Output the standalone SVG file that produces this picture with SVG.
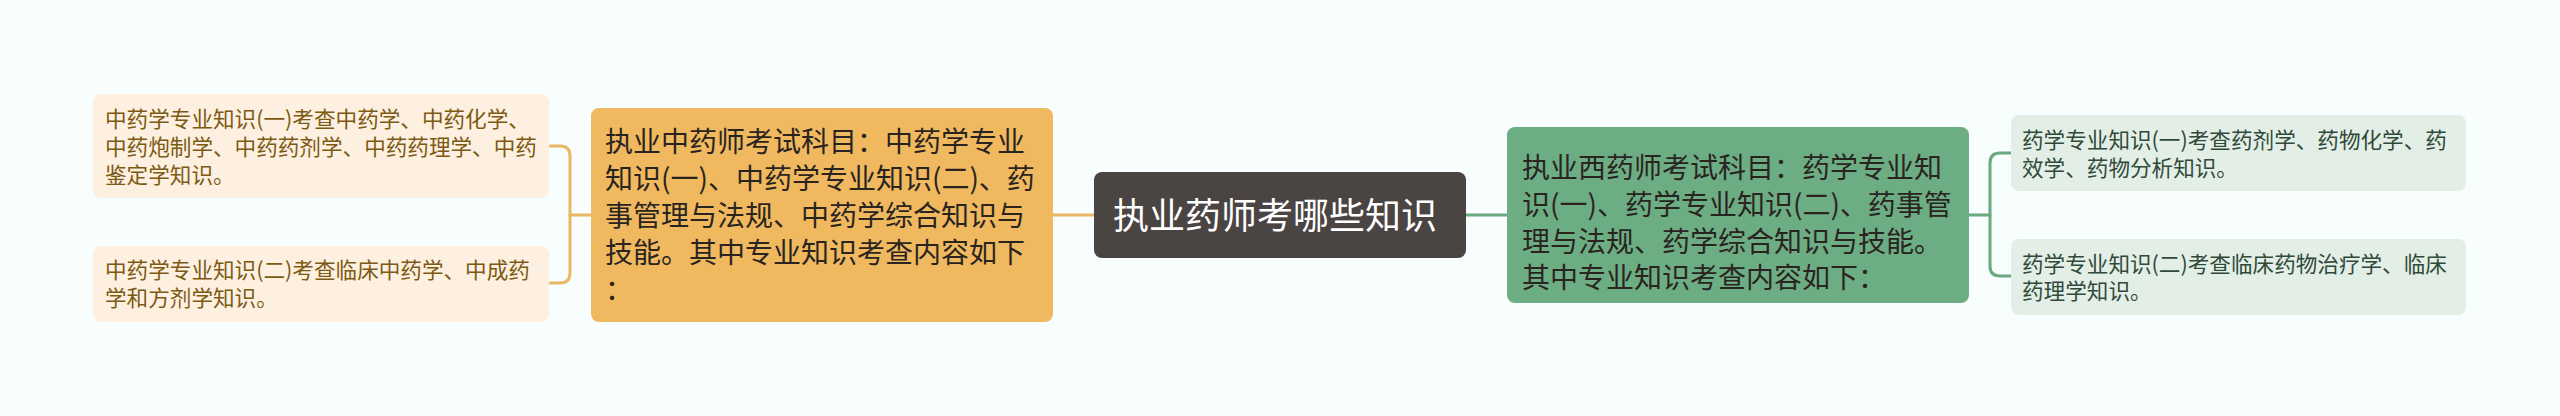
<svg xmlns="http://www.w3.org/2000/svg" width="2560" height="416" viewBox="0 0 2560 416">
<style>
text{font-family:"Noto Sans CJK SC","Noto Sans",sans-serif;}
.leafL{fill:#fdf0e1;}
.leafR{fill:#e2eee6;}
.tL{fill:#7c5a12;font-size:21.6px;}
.tR{fill:#2f4a38;font-size:21.6px;}
.tM{fill:#2a2420;font-size:28px;}
.c{fill:none;stroke-width:3;stroke-linecap:round;}
</style>
<rect width="2560" height="416" fill="#f8fdfd"/>
<g id="connectors">
<path class="c" stroke="#eab865" d="M550 146 H560 Q570 146 570 156 V273 Q570 283 560 283 H550"/>
<path class="c" stroke="#eab865" d="M570 215 H591"/>
<path class="c" stroke="#eab865" d="M1053 215 H1094"/>
<path class="c" stroke="#6aaa80" d="M1466 215 H1507"/>
<path class="c" stroke="#6aaa80" d="M1969 215 H1990"/>
<path class="c" stroke="#6aaa80" d="M2011 153 H2000 Q1990 153 1990 163 V266 Q1990 276 2000 276 H2011"/>
</g>
<g id="root">
<rect x="1094" y="172" width="372" height="86" rx="8" fill="#4a4443"/>
<text x="1113" y="229" fill="#ffffff" font-size="36">执业药师考哪些知识</text>
</g>
<g id="left-main">
<rect x="591" y="108" width="462" height="214" rx="8" fill="#f0b95f"/>
<text class="tM"><tspan x="605" y="152">执业中药师考试科目：中药学专业</tspan><tspan x="605" y="189">知识(一)、中药学专业知识(二)、药</tspan><tspan x="605" y="226">事管理与法规、中药学综合知识与</tspan><tspan x="605" y="263">技能。其中专业知识考查内容如下</tspan><tspan x="605" y="300">：</tspan></text>
</g>
<g id="left-leaf-1">
<rect class="leafL" x="93" y="94" width="456" height="104" rx="8"/>
<text class="tL"><tspan x="105" y="127">中药学专业知识(一)考查中药学、中药化学、</tspan><tspan x="105" y="155">中药炮制学、中药药剂学、中药药理学、中药</tspan><tspan x="105" y="183">鉴定学知识。</tspan></text>
</g>
<g id="left-leaf-2">
<rect class="leafL" x="93" y="246" width="456" height="76" rx="8"/>
<text class="tL"><tspan x="105" y="278">中药学专业知识(二)考查临床中药学、中成药</tspan><tspan x="105" y="306">学和方剂学知识。</tspan></text>
</g>
<g id="right-main">
<rect x="1507" y="127" width="462" height="176" rx="8" fill="#6dad84"/>
<text class="tM"><tspan x="1522" y="178">执业西药师考试科目：药学专业知</tspan><tspan x="1522" y="215">识(一)、药学专业知识(二)、药事管</tspan><tspan x="1522" y="252">理与法规、药学综合知识与技能。</tspan><tspan x="1522" y="288">其中专业知识考查内容如下：</tspan></text>
</g>
<g id="right-leaf-1">
<rect class="leafR" x="2011" y="115" width="455" height="76" rx="8"/>
<text class="tR"><tspan x="2022" y="148">药学专业知识(一)考查药剂学、药物化学、药</tspan><tspan x="2022" y="176">效学、药物分析知识。</tspan></text>
</g>
<g id="right-leaf-2">
<rect class="leafR" x="2011" y="239" width="455" height="76" rx="8"/>
<text class="tR"><tspan x="2022" y="272">药学专业知识(二)考查临床药物治疗学、临床</tspan><tspan x="2022" y="299">药理学知识。</tspan></text>
</g>
</svg>
